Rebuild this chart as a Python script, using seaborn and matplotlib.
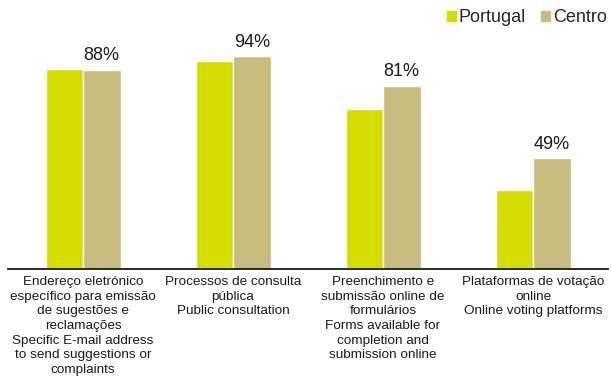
import pandas as pd
import matplotlib
matplotlib.use('Agg')
import matplotlib.pyplot as plt
import seaborn as sns

# Data
categories = [
    'Endereço eletrónico\nespecífico para emissão\nde sugestões e\nreclamações\nSpecific E-mail address\nto send suggestions or\ncomplaints',
    'Processos de consulta\npública\nPublic consultation',
    'Preenchimento e\nsubmissão online de\nformulários\nForms available for\ncompletion and\nsubmission online',
    'Plataformas de votação\nonline\nOnline voting platforms',
]
portugal = [88.2, 91.8, 70.7, 34.9]
centro = [88, 94, 81, 49]
series_names = ['Portugal', 'Centro']
colors = ['#D4DC00', '#C6BD7E']

df = pd.DataFrame({
    'Category': categories * 2,
    'Value': portugal + centro,
    'Region': [series_names[0]] * len(categories) + [series_names[1]] * len(categories),
})

sns.set_style('white')
plt.rcParams['font.family'] = ['Liberation Sans', 'DejaVu Sans']

fig = plt.figure(figsize=(6.11, 3.82), dpi=100)
ax = fig.add_axes([8 / 611, 113 / 382, 600 / 611, 226.3 / 382])

sns.barplot(data=df, x='Category', y='Value', hue='Region', palette=colors,
            width=0.5, saturation=1, ax=ax, legend=False)
ax.set_ylim(0, 100)
ax.set_xlim(-0.5, 3.5)

# value labels only on the Centro bars
ax.bar_label(ax.containers[1], fmt='%.0f%%', padding=4, fontsize=13, color='#1a1a1a')

ax.set_xlabel('')
ax.set_ylabel('')
ax.set_yticks([])
ax.set_xticks(range(len(categories)))
ax.set_xticklabels(categories, fontsize=9.7, linespacing=1.3, color='#1a1a1a')
ax.tick_params(axis='x', length=0, pad=5)
for side in ['top', 'left', 'right']:
    ax.spines[side].set_visible(False)
ax.spines['bottom'].set_color('#1a1a1a')
ax.spines['bottom'].set_linewidth(1.3)

handles = [plt.Rectangle((0, 0), 1, 1, color=c) for c in colors]
fig.legend(handles, series_names, loc='upper right', bbox_to_anchor=(1.0, 0.985),
           ncol=2, frameon=False, fontsize=13, handlelength=0.5, handleheight=0.5,
           handletextpad=0.17, columnspacing=0.85, borderaxespad=0, borderpad=0.2)

fig.savefig('out.png', dpi=100)
